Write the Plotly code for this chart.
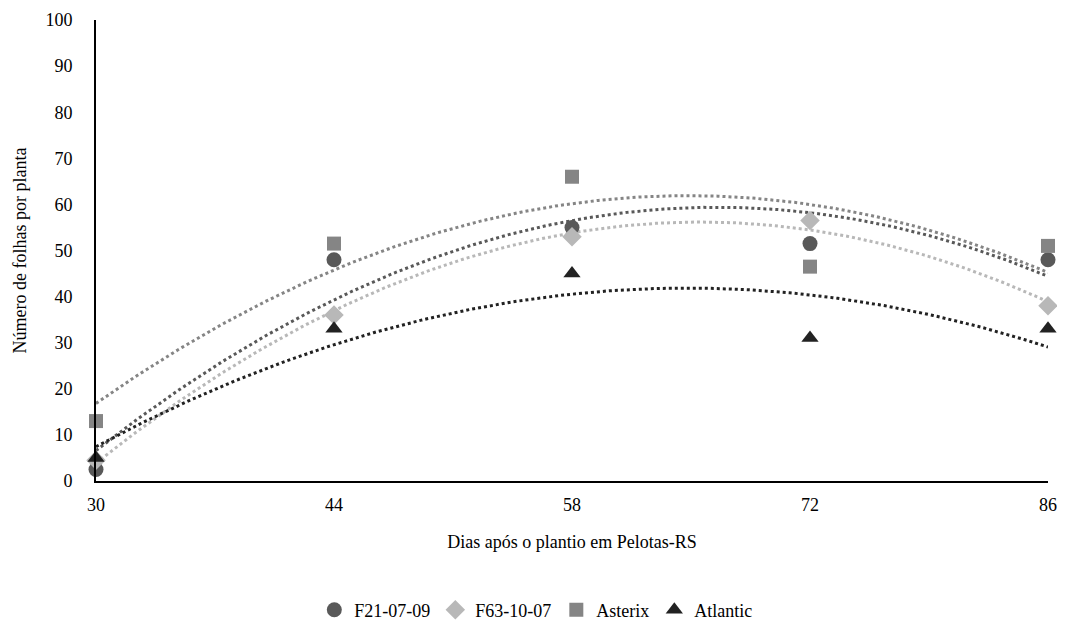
import numpy as np
import plotly.graph_objects as go

days = [30, 44, 58, 72, 86]
f21 = [2.5, 48, 55, 51.5, 48]
f63 = [4.5, 36, 53, 56.5, 38]
asterix = [13, 51.5, 66, 46.5, 51]
atlantic = [5, 33, 45, 31, 33]

series = [
    ("F21-07-09", f21, "#595959", "circle"),
    ("F63-10-07", f63, "#b8b8b8", "diamond"),
    ("Asterix", asterix, "#858585", "square"),
    ("Atlantic", atlantic, "#222222", "triangle-up"),
]

font = "Liberation Serif"
fig = go.Figure()
xs = np.linspace(30, 86, 200)
for name, vals, col, sym in series:
    c = np.polyfit(days, vals, 2)
    fig.add_trace(go.Scatter(x=xs, y=np.polyval(c, xs), mode="lines",
                             line=dict(color=col, width=3, dash="dot"),
                             showlegend=False, hoverinfo="skip", cliponaxis=False))
for name, vals, col, sym in series:
    fig.add_trace(go.Scatter(x=days, y=vals, mode="markers", name=name,
                             marker=dict(symbol=sym, size=15 if sym != "square" else 14, color=col),
                             cliponaxis=False))

tf = dict(family=font, size=18, color="#000000")
fig.update_layout(
    width=1065, height=624,
    margin=dict(l=88, r=25, t=12, b=151, autoexpand=False),
    plot_bgcolor="white", paper_bgcolor="white",
    font=dict(family=font, size=18, color="#000000"),
    xaxis=dict(range=[30, 86], tickvals=days, ticktext=[str(d) for d in days],
               showgrid=False, zeroline=False, showline=True, linecolor="black", linewidth=2,
               ticks="", tickfont=tf, automargin=False, ticklabelstandoff=6,
               title=dict(text="Dias após o plantio em Pelotas-RS", standoff=22, font=tf)),
    yaxis=dict(range=[0, 100], dtick=10, showgrid=False, zeroline=False,
               showline=True, linecolor="black", linewidth=2, ticks="", tickfont=tf,
               automargin=False, ticklabelstandoff=18,
               title=dict(text="Número de folhas por planta", standoff=14, font=tf)),
    legend=dict(orientation="h", x=0.462, xanchor="center", y=-0.28, yanchor="middle",
                font=tf, itemwidth=30, traceorder="normal"),
)
fig.write_html("out.html")
